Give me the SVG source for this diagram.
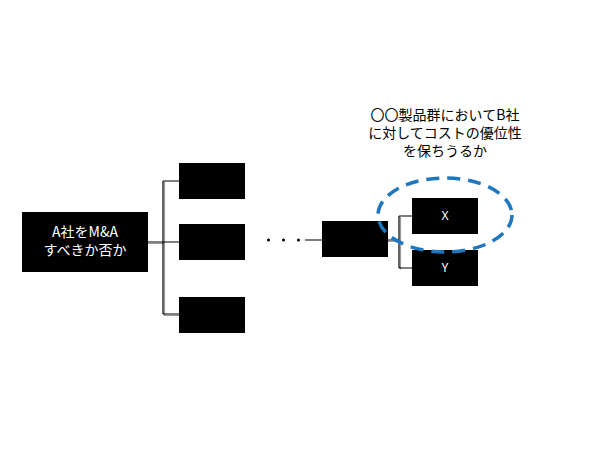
<svg xmlns="http://www.w3.org/2000/svg" width="600" height="450" viewBox="0 0 600 450">
<style>
.box{fill:#000}
.lbl{fill:#fff;font-family:"Noto Sans CJK JP","Noto Sans",sans-serif;font-size:14px;text-anchor:middle}
.sm{fill:#fff;font-family:"Noto Sans","Noto Sans CJK JP",sans-serif;font-size:12px;text-anchor:middle}
.note{fill:#000;font-family:"Noto Sans CJK JP","Noto Sans",sans-serif;font-size:14px;text-anchor:middle}
.ln{fill:none;stroke:#000;stroke-width:1.2}
.sh{fill:none;stroke:#999;stroke-width:1.2}
</style>
<rect width="600" height="450" fill="#fff"/>
<g id="connectors">
<path class="sh" d="M148,243.5 H164.5 M164.5,182 V315.5 H179"/>
<path class="ln" d="M148,242 H163 M163,181 V314 M163,181 H179 M163,242 H179 M163,314 H179"/>
<path class="sh" d="M388,241.5 H400.5 M400.5,217 V269.5"/>
<path class="ln" d="M305,240 H322 M388,240 H399 M399,216 V268 M399,216 H412 M399,268 H412"/>
</g>
<g id="root">
<rect class="box" x="22" y="212" width="126" height="60"/>
<text class="lbl" x="85" y="237">A社をM&amp;A</text>
<text class="lbl" x="85" y="255">すべきか否か</text>
</g>
<g id="b1"><rect class="box" x="179" y="163" width="66" height="36"/></g>
<g id="b2"><rect class="box" x="179" y="224" width="66" height="36"/></g>
<g id="b3"><rect class="box" x="179" y="297" width="66" height="36"/></g>
<g id="dots">
<circle cx="268.5" cy="240" r="1.5" fill="#000"/>
<circle cx="283.5" cy="240" r="1.5" fill="#000"/>
<circle cx="298.5" cy="240" r="1.5" fill="#000"/>
</g>
<g id="mid"><rect class="box" x="322" y="221" width="66" height="36"/></g>
<g id="x">
<rect class="box" x="412" y="198" width="66" height="36"/>
<text class="sm" x="445" y="220">X</text>
</g>
<g id="y">
<rect class="box" x="412" y="250" width="66" height="36"/>
<text class="sm" x="445" y="272">Y</text>
</g>
<g id="highlight">
<ellipse cx="445" cy="215" rx="67" ry="37" fill="none" stroke="#1E77BF" stroke-width="3.5" stroke-dasharray="13,8"/>
</g>
<g id="note">
<text class="note" x="445" y="120">〇〇製品群においてB社</text>
<text class="note" x="445" y="138">に対してコストの優位性</text>
<text class="note" x="445" y="156">を保ちうるか</text>
</g>
</svg>
